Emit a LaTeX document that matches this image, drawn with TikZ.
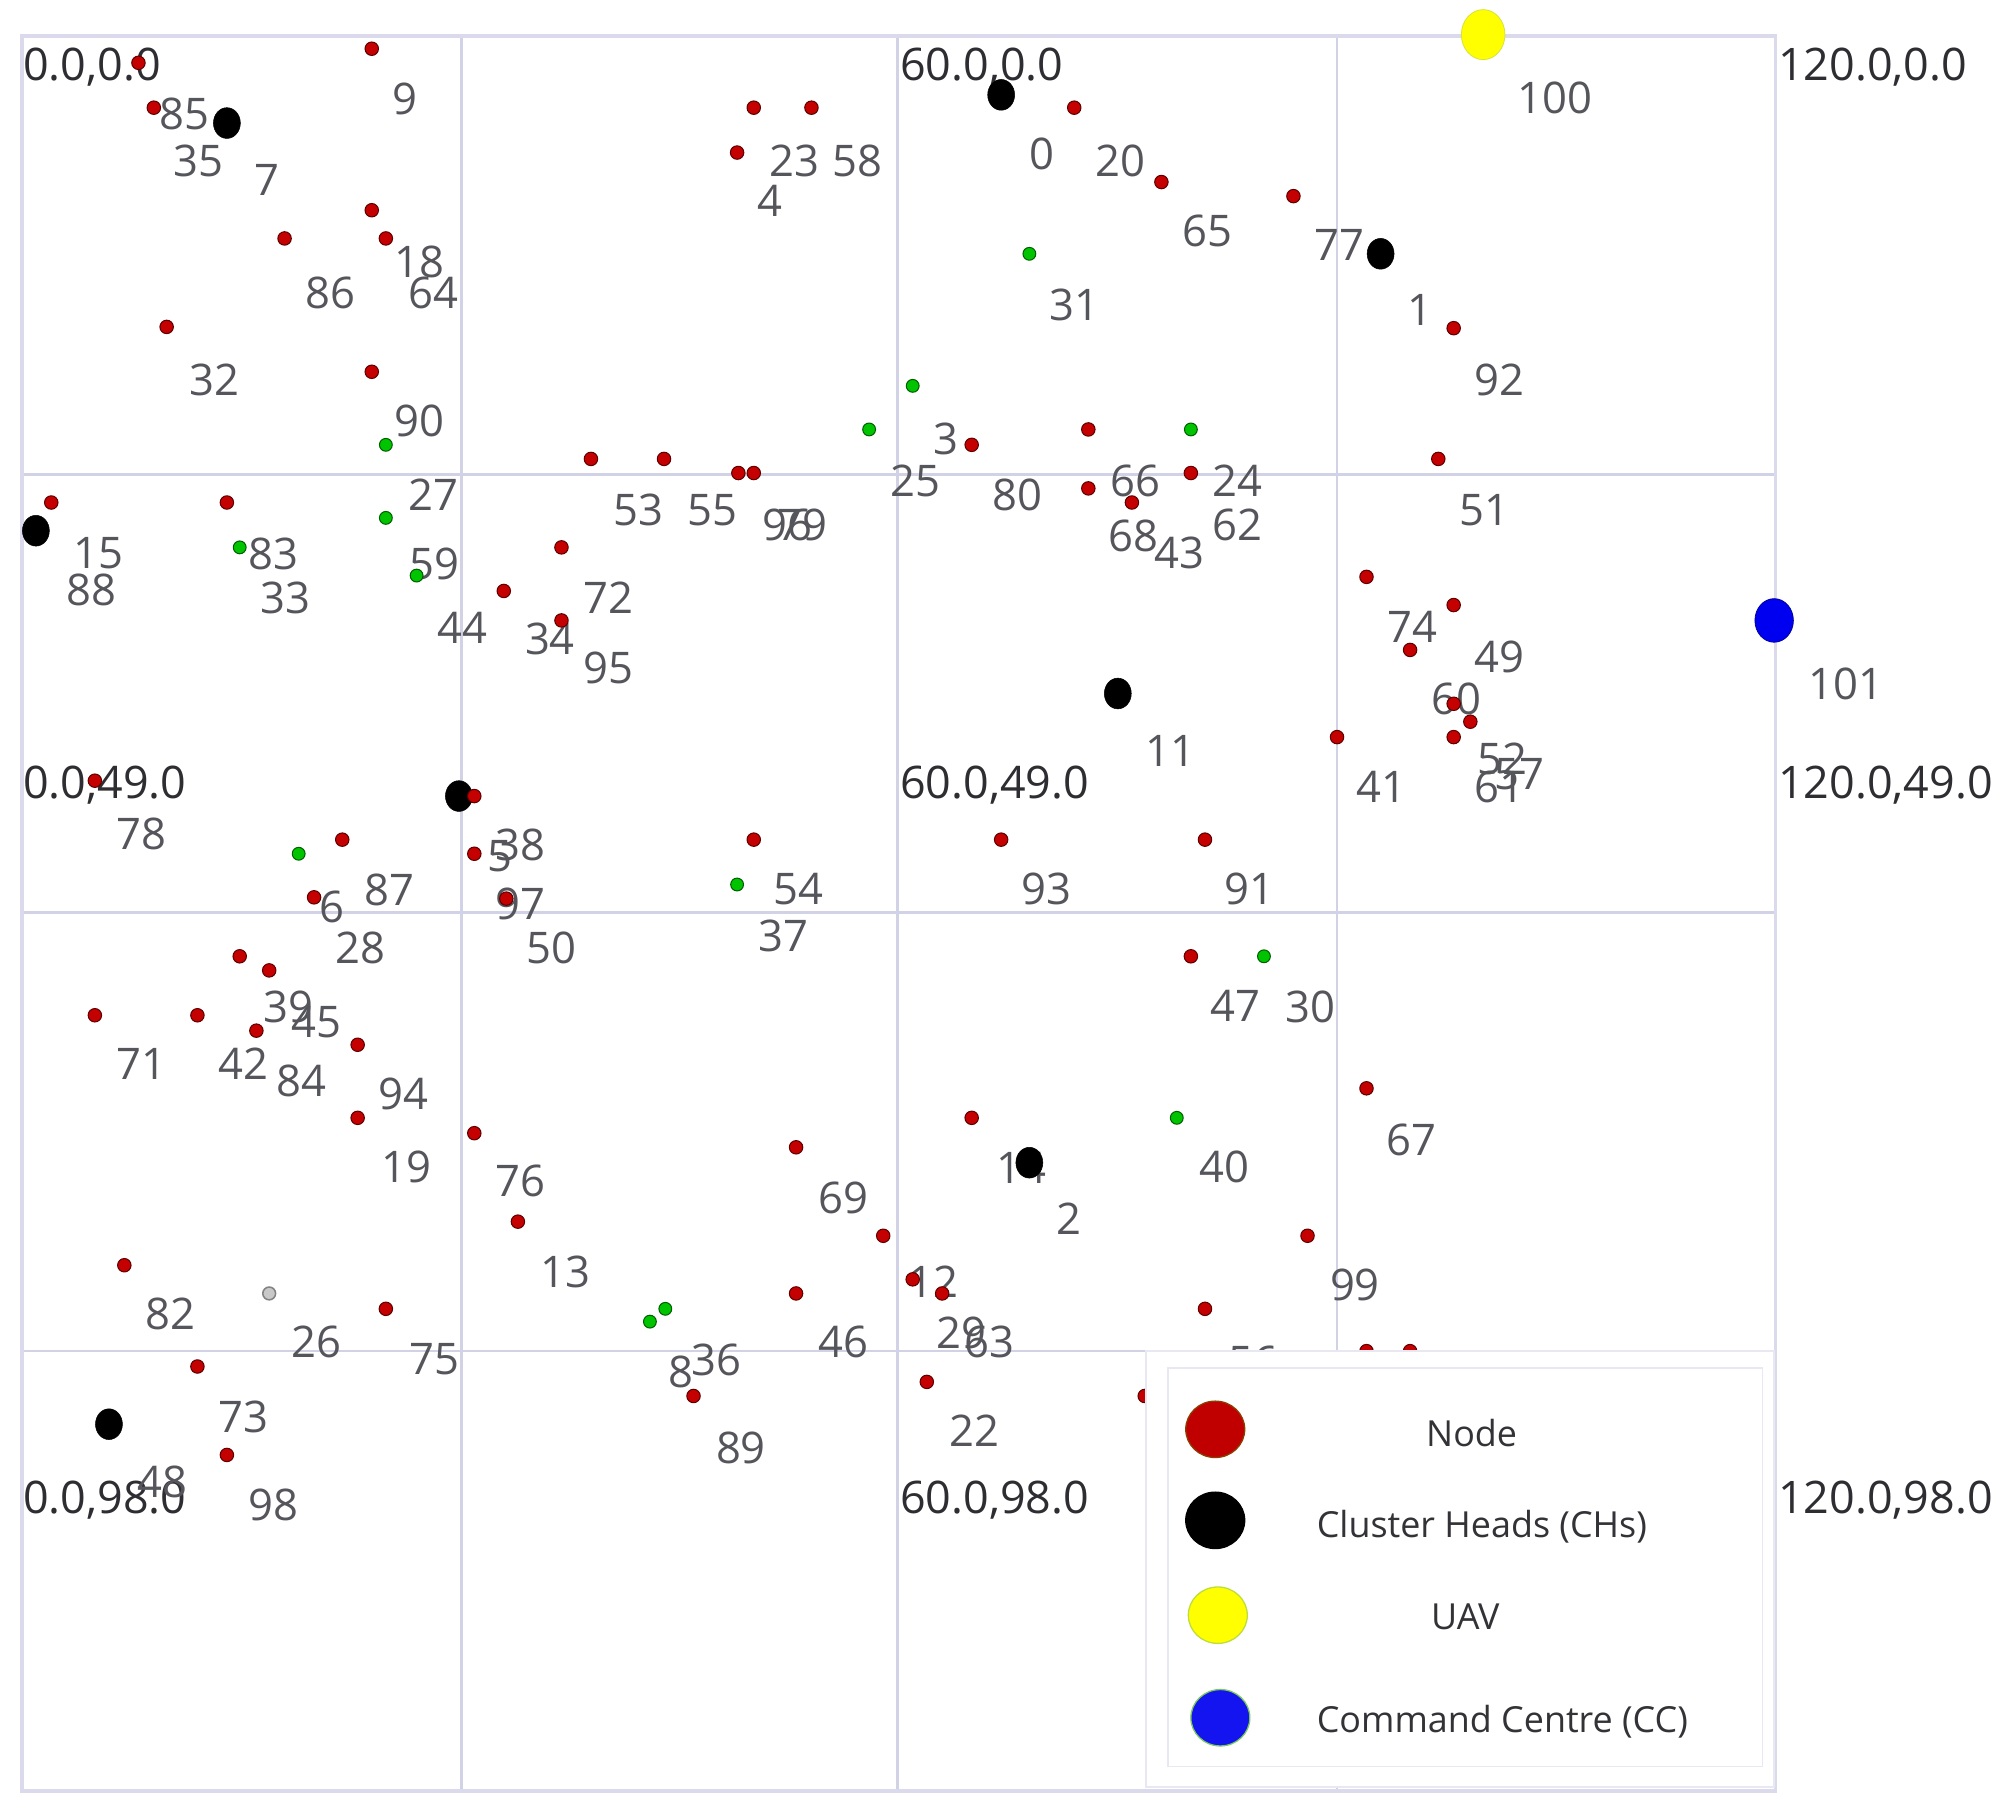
\documentclass[tikz,border=0pt]{standalone}
\usepackage{fontspec}
\setmainfont{Open Sans}
\usetikzlibrary{shapes.geometric}
\definecolor{gridc}{RGB}{210,210,230}
\definecolor{framec}{RGB}{218,218,236}
\definecolor{lblc}{RGB}{85,85,92}
\definecolor{crdc}{RGB}{45,45,50}
\definecolor{nodered}{RGB}{196,0,0}
\definecolor{nodeedge}{RGB}{95,0,0}
\definecolor{nodegreen}{RGB}{0,196,0}
\definecolor{greenedge}{RGB}{0,95,0}
\definecolor{legc}{RGB}{50,50,55}
\definecolor{legbox}{RGB}{232,232,242}
\definecolor{uavfill}{RGB}{255,255,0}
\definecolor{uavedge}{RGB}{215,225,60}
\definecolor{ccfill}{RGB}{0,0,240}
\definecolor{ccedge}{RGB}{0,0,150}
\definecolor{legred}{RGB}{192,0,0}
\definecolor{legrededge}{RGB}{140,60,0}
\definecolor{legyedge}{RGB}{190,220,60}
\definecolor{legblue}{RGB}{20,20,240}
\definecolor{legbedge}{RGB}{120,200,90}
\definecolor{deadfill}{RGB}{200,200,200}
\definecolor{deadedge}{RGB}{130,130,130}
\tikzset{
  lbl/.style={text=lblc, font=\fontsize{34}{34}\selectfont, inner sep=0pt, text depth=0pt, anchor=center},
  crd/.style={text=crdc, font=\fontsize{35}{35}\selectfont, inner sep=0pt, text depth=0pt, anchor=west},
  reddot/.style={circle, fill=nodered, draw=nodeedge, line width=0.8pt, minimum size=10.5pt, inner sep=0pt},
  greendot/.style={circle, fill=nodegreen, draw=greenedge, line width=0.8pt, minimum size=10pt, inner sep=0pt},
  deaddot/.style={circle, fill=deadfill, draw=deadedge, line width=1.2pt, minimum size=10pt, inner sep=0pt},
  chdot/.style={ellipse, fill=black, draw=black, minimum width=21pt, minimum height=24pt, inner sep=0pt},
  uavdot/.style={ellipse, fill=uavfill, draw=uavedge, line width=0.6pt, minimum width=34pt, minimum height=39pt, inner sep=0pt},
  ccdot/.style={ellipse, fill=ccfill, draw=ccedge, line width=0.6pt, minimum width=30pt, minimum height=34pt, inner sep=0pt},
  legtxt/.style={text=legc, font=\fontsize{28}{28}\selectfont, inner sep=0pt, text depth=0pt, anchor=center},
  legmark/.style={ellipse, minimum width=46pt, minimum height=44pt, inner sep=0pt, line width=1pt},
  gridline/.style={draw=gridc, line width=2pt},
  frameline/.style={draw=framec, line width=3pt}
}
\begin{document}
\begin{tikzpicture}[x=1pt, y=-1pt]
\useasboundingbox[fill=white] (0,0) rectangle (1568,1416);
% grid
\foreach \gx in {360,700,1043} \draw[gridline] (\gx,28) -- (\gx,1397);
\foreach \gy in {370,712,1054} \draw[gridline] (17,\gy) -- (1385,\gy);
% outer frame
\draw[frameline] (17,28) rectangle (1385,1397);
% coordinate labels
\node[crd] (c00) at (18,50) {0.0,0.0};
\node[crd] (c60) at (702,50) {60.0,0.0};
\node[crd] (c120) at (1387,50) {120.0,0.0};
\node[crd] (c049) at (18,610) {0.0,49.0};
\node[crd] (c6049) at (702,610) {60.0,49.0};
\node[crd] (c12049) at (1387,610) {120.0,49.0};
\node[crd] (c098) at (18,1168) {0.0,98.0};
\node[crd] (c6098) at (702,1168) {60.0,98.0};
\node[crd] (c12098) at (1387,1168) {120.0,98.0};
% node labels
\foreach \t/\x/\y in {0/813/120, 1/1108/242, 2/834/951, 3/738/342, 4/601/157, 5/390/668, 6/259/707, 7/208/140, 8/531/1070, 9/316/77,
  14/797/911, 11/913/586, 12/728/1000, 13/441/992, 15/77/431, 18/327/204, 19/317/910, 20/874/125, 22/760/1116, 23/620/125,
  24/965/375, 25/714/375, 26/247/1047, 27/338/386, 28/281/739, 29/750/1040, 30/1022/785, 31/838/238, 32/167/296, 33/223/466,
  34/429/498, 35/155/125, 36/559/1061, 37/611/730, 38/406/659, 39/225/785, 40/955/910, 41/1078/614, 42/190/830, 43/920/431,
  44/361/490, 45/247/797, 46/658/1047, 47/964/785, 48/127/1156, 49/1170/512, 50/430/739, 51/1158/398, 52/1172/592, 53/498/398,
  54/623/693, 55/556/398, 56/978/1062, 57/1185/604, 58/669/125, 59/339/440, 60/1136/545, 61/1170/614, 62/965/409, 63/772/1047,
  64/338/228, 65/942/180, 66/886/375, 67/1101/889, 68/884/418, 69/658/934, 71/110/830, 72/475/466, 73/190/1105, 74/1102/489,
  75/339/1060, 76/406/921, 77/1045/191, 78/110/650, 80/794/386, 82/133/1025, 83/213/432, 84/235/843, 85/144/89, 86/258/228,
  87/304/694, 88/71/460, 89/578/1129, 90/327/328, 91/975/693, 92/1170/296, 93/816/693, 94/315/853, 95/475/521, 96/614/409,
  79/626/409, 97/406/705, 98/213/1174, 99/1057/1002, 100/1213/76, 101/1440/533}
  \node[lbl] (l\t) at (\x,\y) {\t};
% cluster heads
\foreach \n/\x/\y in {0/781/74, 1/1077/198, 2/803/907, 5/358/621, 7/177/96, 11/872/541, 48/85/1111, 88/28/414}
  \node[chdot] (n\n) at (\x,\y) {};
% ordinary nodes
\foreach \n/\x/\y in {4/575/119, 9/290/38, 14/758/872, 12/689/964, 13/404/953, 15/40/392, 18/290/164, 19/279/872, 20/838/84,
  22/723/1078, 23/588/84, 28/245/700, 29/712/998, 32/130/255, 34/393/461, 35/120/84, 38/370/621, 39/187/746, 41/1043/575,
  42/154/792, 43/883/392, 45/210/757, 46/621/1009, 47/929/746, 49/1134/472, 50/395/701, 51/1122/358, 52/1134/549, 53/461/358,
  54/588/655, 55/518/358, 56/940/1021, 57/1147/563, 58/633/84, 60/1100/507, 61/1134/575, 62/929/369, 63/735/1009, 64/301/186,
  65/906/142, 66/849/335, 67/1066/849, 68/849/381, 69/621/895, 71/74/792, 72/438/427, 73/154/1066, 74/1066/450, 75/301/1021,
  76/370/884, 77/1009/153, 78/74/609, 80/758/347, 82/97/987, 83/177/392, 84/200/804, 85/108/49, 86/222/186, 87/267/655,
  89/541/1089, 90/290/290, 91/940/655, 92/1134/256, 93/781/655, 94/279/815, 95/438/484, 96/576/369, 79/588/369, 97/370/666,
  98/177/1135, 99/1020/964, h1/1066/1054, h2/1100/1054, h3/893/1089}
  \node[reddot] (n\n) at (\x,\y) {};
\foreach \n/\x/\y in {3/712/301, 6/233/666, 8/507/1031, 24/929/335, 25/678/335, 27/301/347, 30/986/746, 31/803/198,
  33/187/427, 36/519/1021, 37/575/690, 40/918/872, 44/325/449, 59/301/404}
  \node[greendot] (n\n) at (\x,\y) {};
\node[deaddot] (n26) at (210,1009) {};
\node[uavdot] (n100) at (1157,27) {};
\node[ccdot] (n101) at (1384,484) {};
% legend
\node[draw=legbox, fill=white, line width=1.5pt, minimum width=490pt, minimum height=340pt, inner sep=0pt] (legout) at (1139,1224) {};
\node[draw=legbox, line width=1.2pt, minimum width=464pt, minimum height=311pt, inner sep=0pt] (legin) at (1143,1222.5) {};
\node[legmark, fill=legred, draw=legrededge] (mnode) at (948,1115) {};
\node[legmark, fill=black, draw=black] (mch) at (948,1186) {};
\node[legmark, fill=uavfill, draw=legyedge] (muav) at (950,1260) {};
\node[legmark, fill=legblue, draw=legbedge] (mcc) at (952,1340) {};
\node[legtxt] (tnode) at (1148,1118) {Node};
\node[legtxt] (tch) at (1156,1189) {Cluster Heads (CHs)};
\node[legtxt] (tuav) at (1143,1261) {UAV};
\node[legtxt] (tcc) at (1172,1341) {Command Centre (CC)};
\end{tikzpicture}
\end{document}
